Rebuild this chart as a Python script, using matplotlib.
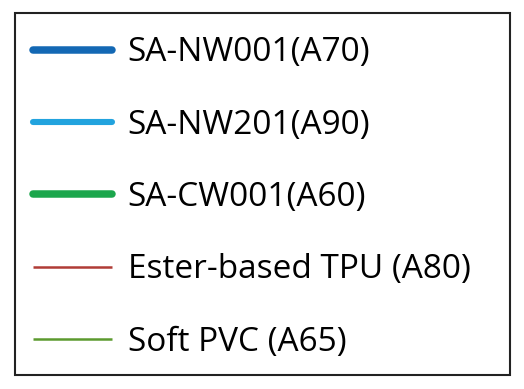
import matplotlib
matplotlib.use("Agg")
import matplotlib.pyplot as plt
from matplotlib.lines import Line2D
from matplotlib.patches import Rectangle

plt.rcParams['font.family'] = ['Open Sans', 'DejaVu Sans']

labels = ['SA-NW001(A70)', 'SA-NW201(A90)', 'SA-CW001(A60)',
          'Ester-based TPU (A80)', 'Soft PVC (A65)']
colors = ['#1368b4', '#22a3de', '#1ca64c', '#b03c36', '#5c9a2f']
widths = [5.4, 4.4, 5.4, 1.8, 1.8]
caps = ['round', 'round', 'round', 'butt', 'butt']

fig = plt.figure(figsize=(5.24, 3.89), dpi=100)

handles = [Line2D([], [], color=c, lw=w, solid_capstyle=cs)
           for c, w, cs in zip(colors, widths, caps)]

leg = fig.legend(handles, labels, loc='upper left',
                 bbox_to_anchor=(15 / 524, 1 - 18 / 389),
                 borderaxespad=0, fontsize=24, frameon=False,
                 handlelength=2.35, handletextpad=0.48,
                 labelspacing=1.18, borderpad=0.55)

# frame is wider than the legend content on the right
fig.patches.append(Rectangle((15 / 524, 1 - 375 / 389), 495 / 524, 362 / 389,
                             transform=fig.transFigure, fill=False,
                             edgecolor='#222222', lw=1.5))

fig.savefig('out.png', dpi=100)
